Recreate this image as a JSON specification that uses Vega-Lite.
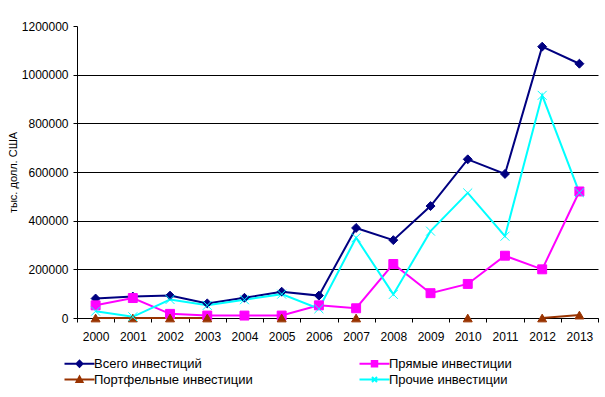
{
  "$schema": "https://vega.github.io/schema/vega-lite/v6.json",
  "width": 521,
  "height": 292,
  "autosize": {"type": "none"},
  "padding": {"left": 77, "top": 26, "right": 7, "bottom": 79},
  "background": "white",
  "config": {
    "view": {"stroke": null},
    "font": "Liberation Sans",
    "axis": {"labelFont": "Liberation Sans", "labelFontSize": 12, "labelColor": "black", "titleFont": "Liberation Sans", "domain": true, "domainColor": "black", "domainWidth": 1, "tickColor": "black"},
    "legend": {"labelFont": "Liberation Sans", "labelFontSize": 13, "labelColor": "black"}
  },
  "data": {
    "values": [
      {"year": "2000", "s": "Всего инвестиций", "v": 80000},
      {"year": "2001", "s": "Всего инвестиций", "v": 88000},
      {"year": "2002", "s": "Всего инвестиций", "v": 92000},
      {"year": "2003", "s": "Всего инвестиций", "v": 60000},
      {"year": "2004", "s": "Всего инвестиций", "v": 83000},
      {"year": "2005", "s": "Всего инвестиций", "v": 108000},
      {"year": "2006", "s": "Всего инвестиций", "v": 92000},
      {"year": "2007", "s": "Всего инвестиций", "v": 370000},
      {"year": "2008", "s": "Всего инвестиций", "v": 320000},
      {"year": "2009", "s": "Всего инвестиций", "v": 460000},
      {"year": "2010", "s": "Всего инвестиций", "v": 652000},
      {"year": "2011", "s": "Всего инвестиций", "v": 592000},
      {"year": "2012", "s": "Всего инвестиций", "v": 1115000},
      {"year": "2013", "s": "Всего инвестиций", "v": 1045000},
      {"year": "2000", "s": "Прямые инвестиции", "v": 52000},
      {"year": "2001", "s": "Прямые инвестиции", "v": 82000},
      {"year": "2002", "s": "Прямые инвестиции", "v": 17000},
      {"year": "2003", "s": "Прямые инвестиции", "v": 10000},
      {"year": "2004", "s": "Прямые инвестиции", "v": 10000},
      {"year": "2005", "s": "Прямые инвестиции", "v": 10000},
      {"year": "2006", "s": "Прямые инвестиции", "v": 52000},
      {"year": "2007", "s": "Прямые инвестиции", "v": 40000},
      {"year": "2008", "s": "Прямые инвестиции", "v": 222000},
      {"year": "2009", "s": "Прямые инвестиции", "v": 102000},
      {"year": "2010", "s": "Прямые инвестиции", "v": 140000},
      {"year": "2011", "s": "Прямые инвестиции", "v": 256000},
      {"year": "2012", "s": "Прямые инвестиции", "v": 200000},
      {"year": "2013", "s": "Прямые инвестиции", "v": 520000},
      {"year": "2000", "s": "Портфельные инвестиции", "v": 0},
      {"year": "2001", "s": "Портфельные инвестиции", "v": 0},
      {"year": "2002", "s": "Портфельные инвестиции", "v": 0},
      {"year": "2003", "s": "Портфельные инвестиции", "v": 0},
      {"year": "2004", "s": "Портфельные инвестиции", "v": null},
      {"year": "2005", "s": "Портфельные инвестиции", "v": 0},
      {"year": "2006", "s": "Портфельные инвестиции", "v": null},
      {"year": "2007", "s": "Портфельные инвестиции", "v": 0},
      {"year": "2008", "s": "Портфельные инвестиции", "v": null},
      {"year": "2009", "s": "Портфельные инвестиции", "v": null},
      {"year": "2010", "s": "Портфельные инвестиции", "v": 0},
      {"year": "2011", "s": "Портфельные инвестиции", "v": null},
      {"year": "2012", "s": "Портфельные инвестиции", "v": 0},
      {"year": "2013", "s": "Портфельные инвестиции", "v": 12000},
      {"year": "2000", "s": "Прочие инвестиции", "v": 28000},
      {"year": "2001", "s": "Прочие инвестиции", "v": 5000},
      {"year": "2002", "s": "Прочие инвестиции", "v": 76000},
      {"year": "2003", "s": "Прочие инвестиции", "v": 52000},
      {"year": "2004", "s": "Прочие инвестиции", "v": 75000},
      {"year": "2005", "s": "Прочие инвестиции", "v": 98000},
      {"year": "2006", "s": "Прочие инвестиции", "v": 38000},
      {"year": "2007", "s": "Прочие инвестиции", "v": 330000},
      {"year": "2008", "s": "Прочие инвестиции", "v": 97000},
      {"year": "2009", "s": "Прочие инвестиции", "v": 357000},
      {"year": "2010", "s": "Прочие инвестиции", "v": 514000},
      {"year": "2011", "s": "Прочие инвестиции", "v": 336000},
      {"year": "2012", "s": "Прочие инвестиции", "v": 915000},
      {"year": "2013", "s": "Прочие инвестиции", "v": 515000}
    ]
  },
  "encoding": {
    "x": {
      "field": "year", "type": "ordinal",
      "scale": {"type": "band", "paddingInner": 0, "paddingOuter": 0},
      "axis": {"title": null, "labelAngle": 0, "tickBand": "extent", "tickSize": 4, "labelPadding": 9, "grid": false}
    },
    "y": {
      "field": "v", "type": "quantitative",
      "scale": {"domain": [0, 1200000], "nice": false},
      "axis": {
        "title": "тыс. долл. США", "titleFontSize": 11, "titleFontWeight": "normal", "titleColor": "black", "titlePadding": 3,
        "values": [0, 200000, 400000, 600000, 800000, 1000000, 1200000], "format": "d",
        "tickSize": 4, "labelPadding": 5,
        "grid": true, "gridWidth": 1, "gridOpacity": 1,
        "gridColor": {"condition": {"test": "datum.value >= 1200000", "value": "transparent"}, "value": "black"}
      }
    },
    "color": {
      "field": "s", "type": "nominal",
      "scale": {"domain": ["Всего инвестиций", "Прямые инвестиции", "Портфельные инвестиции", "Прочие инвестиции"], "range": ["#000080", "#FF00FF", "#993300", "#00FFFF"]},
      "legend": {
        "title": null, "orient": "none", "legendX": -4, "legendY": 331, "direction": "horizontal", "columns": 2,
        "columnPadding": 102, "rowPadding": 1, "symbolSize": 100, "symbolOffset": 0, "labelOffset": 8, "padding": 0,
        "encode": {"symbols": {"update": {
          "shape": {"signal": "datum.value == 'Всего инвестиций' ? 'M-3,0L3,0M0,-0.6L0.6,0L0,0.6L-0.6,0Z' : datum.value == 'Прямые инвестиции' ? 'M-3,0L3,0M-0.55,-0.55L0.55,-0.55L0.55,0.55L-0.55,0.55Z' : datum.value == 'Портфельные инвестиции' ? 'M-3,0L3,0M0,-0.6L0.6,0.5L-0.6,0.5Z' : 'M-3,0L3,0M-0.5,-0.5L0.5,0.5M-0.5,0.5L0.5,-0.5'"},
          "fill": {"signal": "scale('color', datum.value)"},
          "stroke": {"signal": "scale('color', datum.value)"},
          "strokeWidth": {"value": 2},
          "opacity": {"value": 1}
        }}}
      }
    }
  },
  "layer": [
    {"mark": {"type": "line", "strokeWidth": 2}},
    {
      "mark": {
        "type": "point", "filled": true, "size": 80, "opacity": 1, "strokeWidth": 1,
        "shape": {"expr": "datum.s == 'Всего инвестиций' ? 'diamond' : datum.s == 'Прямые инвестиции' ? 'square' : datum.s == 'Портфельные инвестиции' ? 'triangle-up' : 'M-1,-1L1,1M-1,1L1,-1'"},
        "stroke": {"expr": "scale('color', datum.s)"}
      }
    }
  ]
}
